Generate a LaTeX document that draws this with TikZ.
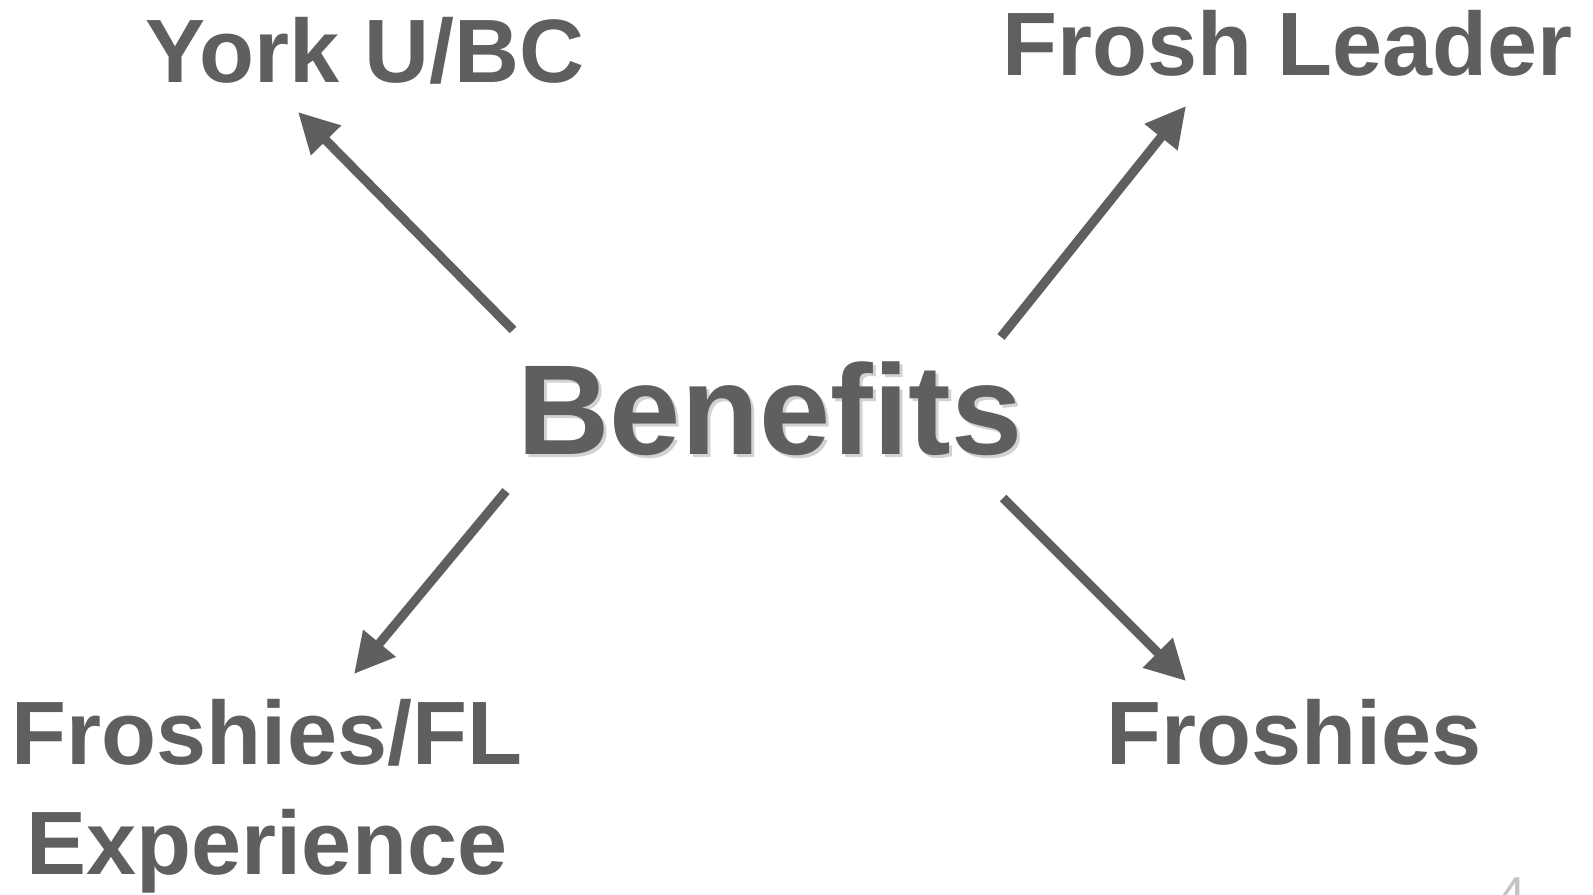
\documentclass[tikz,border=0pt]{standalone}
\usepackage{fontspec}
\setmainfont{Liberation Sans}
\usetikzlibrary{arrows.meta}
\definecolor{bfgray}{HTML}{5F5F5F}
\definecolor{shgray}{HTML}{D2D2D2}
\definecolor{pngray}{HTML}{C4C4C4}
\tikzset{bfp/.style={
  x=0.5pt,
  y=-0.5pt,
}}
\tikzset{lbl/.style={
  text=bfgray,
  font=\fontsize{45}{55}\selectfont\bfseries,
  anchor=base,
  inner sep=0pt,
  align=center,
}}
\tikzset{ttl/.style={lbl,font=\fontsize{64}{70}\selectfont\bfseries}}
\tikzset{shd/.style={ttl,text=shgray}}
\tikzset{arr/.style={
  draw=bfgray,
  line width=4.6pt,
  -{Triangle[length=20pt,width=20pt]},
}}

\begin{document}
\begin{tikzpicture}[bfp]
    \useasboundingbox (0,0) rectangle (1593,894);
    % Centre
    \node[shd] (shadow) at (773,457) {Benefits};
    \node[ttl] (benefits) at (770,454) {Benefits};
    % Corners
    \node[lbl] (york) at (365,82) {York U/BC};
    \node[lbl] (leader) at (1288,75) {Frosh Leader};
    \node[lbl] (flexp) at (267,874) {Froshies/FL\\Experience};
    \node[lbl] (froshies) at (1294,764) {Froshies};
    \node[text=pngray,font=\fontsize{26}{30}\selectfont,anchor=north,inner sep=0pt]
      (pageno) at (1512,877) {4};
    % Arrow ends
    \coordinate (b-nw) at (513,330);
    \coordinate (b-ne) at (1001,337);
    \coordinate (b-sw) at (506,491);
    \coordinate (b-se) at (1003,498);
    \coordinate (york-tip) at (298,112);
    \coordinate (leader-tip) at (1186,106);
    \coordinate (flexp-tip) at (354,674);
    \coordinate (froshies-tip) at (1186,681);
    \draw[arr] (b-nw) -- (york-tip);
    \draw[arr] (b-ne) -- (leader-tip);
    \draw[arr] (b-sw) -- (flexp-tip);
    \draw[arr] (b-se) -- (froshies-tip);
\end{tikzpicture}
\end{document}
